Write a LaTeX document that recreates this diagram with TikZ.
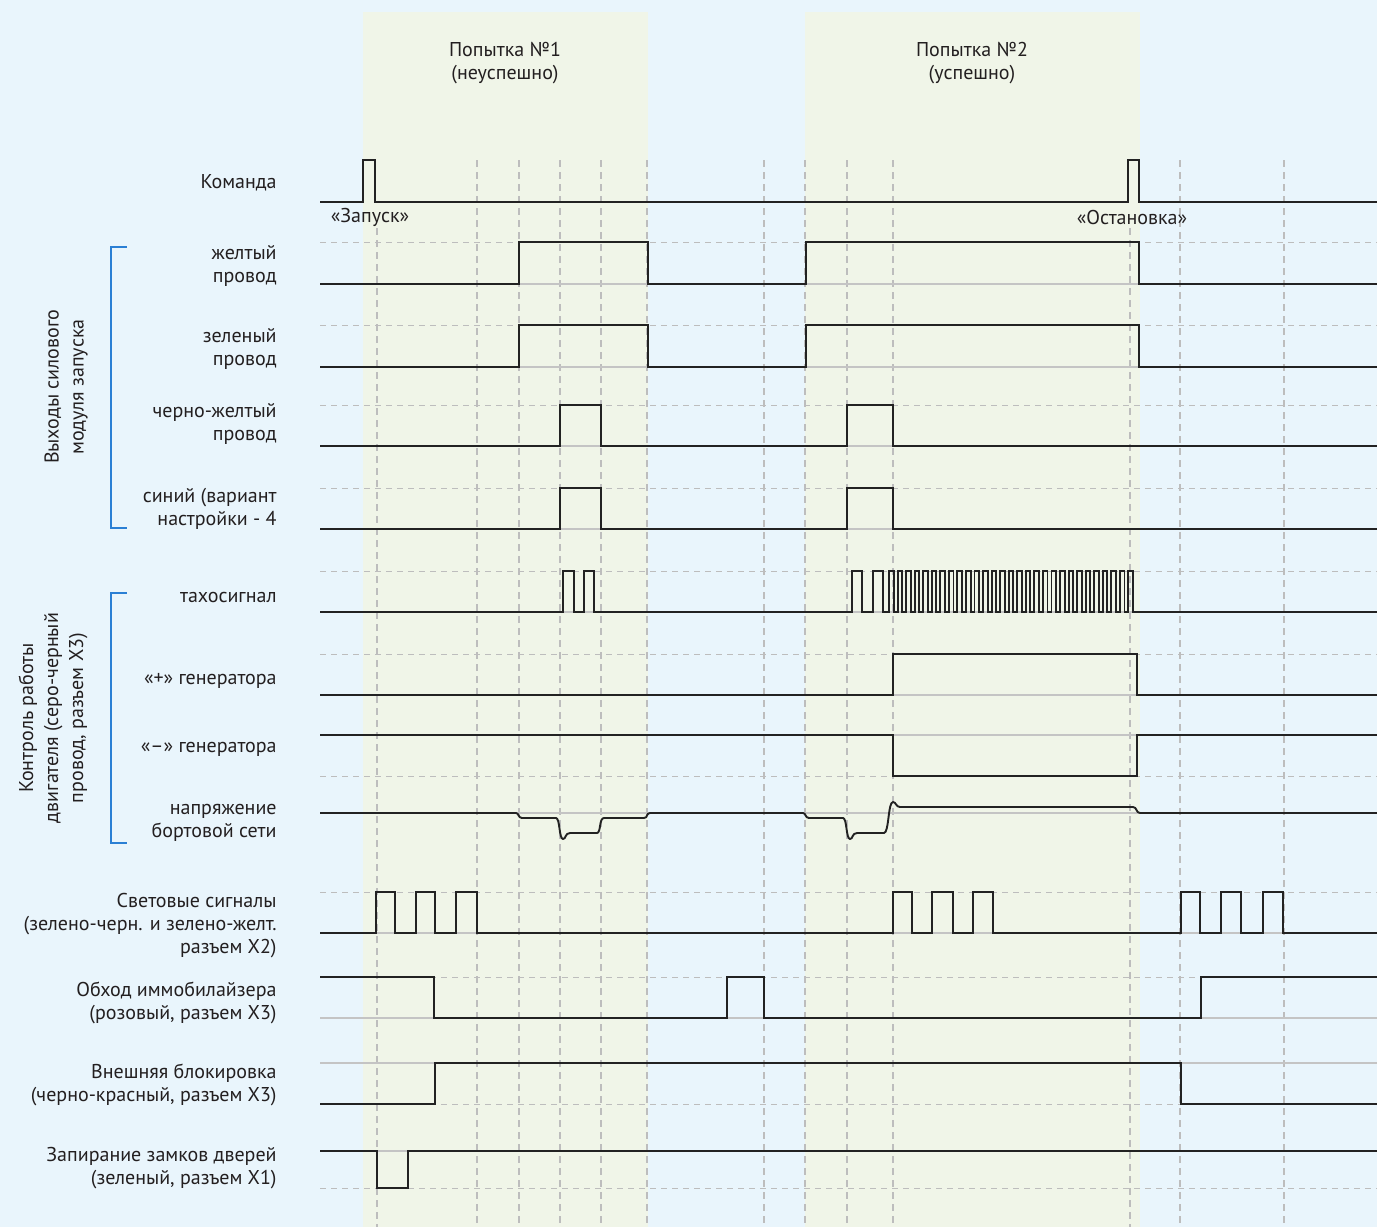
\documentclass[tikz,border=0pt]{standalone}
\usepackage{fontspec}
\setmainfont{PT Sans}
\definecolor{bgblue}{HTML}{E9F5FC}
\definecolor{bandgreen}{HTML}{F0F5E8}
\definecolor{sigcol}{HTML}{222222}
\definecolor{refcol}{HTML}{BDBDBD}
\definecolor{lowcol}{HTML}{C4C4C4}
\definecolor{brcol}{HTML}{2A7FD4}
\definecolor{txtcol}{HTML}{231F20}
\begin{document}
\begin{tikzpicture}[x=0.5pt,y=-0.5pt,
  sig/.style={draw=sigcol,line width=0.95pt,line join=miter},
  refdash/.style={draw=refcol,line width=0.5pt,dash pattern=on 3pt off 2.5pt},
  reflow/.style={draw=lowcol,line width=0.55pt},
  vgrid/.style={draw=refcol,line width=0.55pt,dash pattern=on 3.5pt off 2.5pt},
  bracketline/.style={draw=brcol,line width=0.75pt},
  lbl/.style={font=\fontsize{10}{11.5}\selectfont,text=txtcol,inner sep=0pt,align=right,anchor=east},
  grp/.style={font=\fontsize{10}{12.5}\selectfont,text=txtcol,inner sep=0pt,align=center,rotate=90},
  ttl/.style={font=\fontsize{10}{11.5}\selectfont,text=txtcol,inner sep=0pt,align=center},
  evt/.style={font=\fontsize{10}{11.5}\selectfont,text=txtcol,inner sep=0pt}]
\useasboundingbox (0,0) rectangle (1377,1227);
% background
\fill[bgblue] (0,0) rectangle (1377,1227);
\fill[bandgreen] (363,12) rectangle (648,1227);
\fill[bandgreen] (805,12) rectangle (1140,1227);
% vertical grid
\foreach \xx in {477,519,560,601,647,764,805,847,893,1180,1284}
  \draw[vgrid] (\xx,160) -- (\xx,1227);
\foreach \xx in {377,1130}
  \draw[vgrid] (\xx,228) -- (\xx,1227);
% horizontal reference lines
\foreach \yy in {242,325,405,488,571,654,776,892,977,1104,1188}
  \draw[refdash] (320,\yy) -- (1377,\yy);
\foreach \yy in {284,367,446,529,612,695,735,813,933,1018,1063,1151}
  \draw[reflow] (320,\yy) -- (1377,\yy);
% titles
\node[ttl] (t1) at (505,63) {Попытка №1\\(неуспешно)};
\node[ttl] (t2) at (972,63) {Попытка №2\\(успешно)};
% labels
\node[lbl] (l1) at (277,183) {Команда};
\node[lbl] (l2) at (277,266) {желтый\\провод};
\node[lbl] (l3) at (277,349) {зеленый\\провод};
\node[lbl] (l4) at (277,424) {черно-желтый\\провод};
\node[lbl] (l5) at (277,509) {синий (вариант\\настройки - 4};
\node[lbl] (l6) at (277,597.5) {тахосигнал};
\node[lbl] (l7) at (277,680.5) {«+» генератора};
\node[lbl] (l8) at (277,749.5) {«–» генератора};
\node[lbl] (l9) at (277,822.5) {напряжение\\бортовой сети};
\node[lbl] (l10) at (277,926) {Световые сигналы\\(зелено-черн. и зелено-желт.\\разъем X2)};
\node[lbl] (l11) at (277,1002.5) {Обход иммобилайзера\\(розовый, разъем X3)};
\node[lbl] (l12) at (277,1085) {Внешняя блокировка\\(черно-красный, разъем X3)};
\node[lbl] (l13) at (277,1168) {Запирание замков дверей\\(зеленый, разъем X1)};
% groups
\node[grp] (g1) at (66,387) {Выходы силового\\модуля запуска};
\node[grp] (g2) at (53,718) {Контроль работы\\двигателя (серо-черный\\провод, разъем X3)};
\draw[bracketline] (127,247) -- (111,247) -- (111,528) -- (127,528);
\draw[bracketline] (127,593) -- (111,593) -- (111,843) -- (127,843);
% events
\node[evt] (e1) at (370,217) {«Запуск»};
\node[evt] (e2) at (1132,217) {«Остановка»};
% signals
\draw[sig] (320,202) -- (363,202) -- (363,160) -- (375,160) -- (375,202) -- (1128,202) -- (1128,160) -- (1139,160) -- (1139,202) -- (1377,202);
\draw[sig] (320,284) -- (519,284) -- (519,242) -- (648,242) -- (648,284) -- (806,284) -- (806,242) -- (1139,242) -- (1139,284) -- (1377,284);
\draw[sig] (320,367) -- (519,367) -- (519,325) -- (648,325) -- (648,367) -- (806,367) -- (806,325) -- (1139,325) -- (1139,367) -- (1377,367);
\draw[sig] (320,446) -- (560,446) -- (560,405) -- (601,405) -- (601,446) -- (847,446) -- (847,405) -- (893,405) -- (893,446) -- (1377,446);
\draw[sig] (320,529) -- (560,529) -- (560,488) -- (601,488) -- (601,529) -- (847,529) -- (847,488) -- (893,488) -- (893,529) -- (1377,529);
\draw[sig] (320,612) -- (563,612) -- (563,571) -- (574,571) -- (574,612) -- (584,612) -- (584,571) -- (594,571) -- (594,612)
  -- (852,612) -- (852,571) -- (862,571) -- (862,612) -- (873,612) -- (873,571) -- (883,571) -- (883,612) -- (889,612)
  \foreach \i in {0,...,28} { -- ({889+8.55*\i},612) -- ({889+8.55*\i},571) -- ({893.6+8.55*\i},571) -- ({893.6+8.55*\i},612) }
  -- (1377,612);
\draw[sig] (320,695) -- (893,695) -- (893,654) -- (1137,654) -- (1137,695) -- (1377,695);
\draw[sig] (320,735) -- (893,735) -- (893,776) -- (1137,776) -- (1137,735) -- (1377,735);
\draw[sig,line join=round] (320,813) -- (516,813) .. controls (519,813) and (518,818) .. (522,818) -- (556,818)
  .. controls (560,818) and (559,839) .. (563,839) .. controls (566,839) and (565,833) .. (570,833) -- (597,833)
  .. controls (601,833) and (599,818) .. (604,818) -- (644,818) .. controls (648,818) and (646,813) .. (650,813)
  -- (803,813) .. controls (806,813) and (805,818) .. (809,818) -- (843,818)
  .. controls (847,818) and (846,839) .. (850,839) .. controls (853,839) and (852,833) .. (857,833) -- (884,833)
  .. controls (889,833) and (888,802) .. (893,802) .. controls (896,802) and (896,807) .. (900,807) -- (1133,807)
  .. controls (1137,807) and (1136,813) .. (1140,813) -- (1377,813);
\draw[sig] (320,933) -- (376,933) -- (376,892) -- (395,892) -- (395,933) -- (416,933) -- (416,892) -- (435,892) -- (435,933)
  -- (456,933) -- (456,892) -- (477,892) -- (477,933) -- (893,933) -- (893,892) -- (912,892) -- (912,933)
  -- (932,933) -- (932,892) -- (953,892) -- (953,933) -- (973,933) -- (973,892) -- (993,892) -- (993,933)
  -- (1181,933) -- (1181,892) -- (1200,892) -- (1200,933) -- (1221,933) -- (1221,892) -- (1241,892) -- (1241,933)
  -- (1263,933) -- (1263,892) -- (1283,892) -- (1283,933) -- (1377,933);
\draw[sig] (320,977) -- (434,977) -- (434,1018) -- (727,1018) -- (727,977) -- (764,977) -- (764,1018) -- (1201,1018) -- (1201,977) -- (1377,977);
\draw[sig] (320,1104) -- (435,1104) -- (435,1063) -- (1181,1063) -- (1181,1104) -- (1377,1104);
\draw[sig] (320,1151) -- (377,1151) -- (377,1188) -- (408,1188) -- (408,1151) -- (1377,1151);
\end{tikzpicture}
\end{document}
